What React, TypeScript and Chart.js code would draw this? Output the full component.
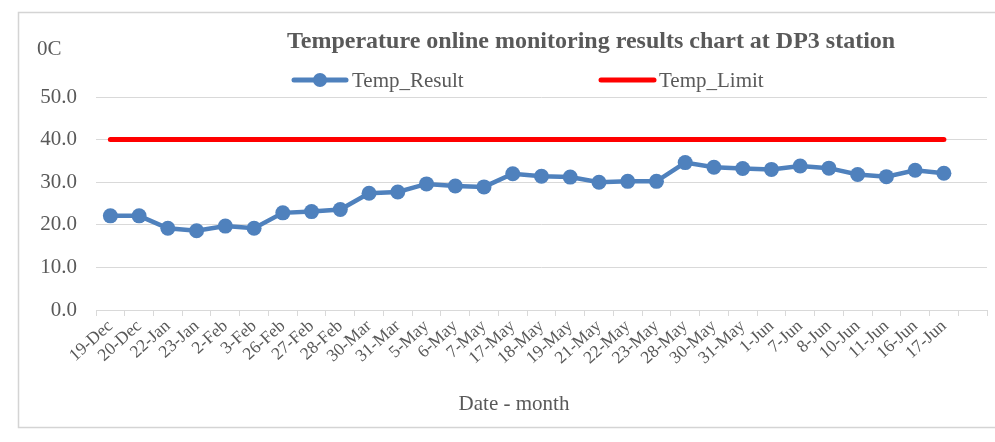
import React, { useEffect, useRef } from "react";
import { Chart, registerables } from "chart.js";

Chart.register(...registerables);

const categories: string[] = [
  "19-Dec", "20-Dec", "22-Jan", "23-Jan", "2-Feb", "3-Feb", "26-Feb", "27-Feb", "28-Feb",
  "30-Mar", "31-Mar", "5-May", "6-May", "7-May", "17-May", "18-May", "19-May", "21-May",
  "22-May", "23-May", "28-May", "30-May", "31-May", "1-Jun", "7-Jun", "8-Jun", "10-Jun",
  "11-Jun", "16-Jun", "17-Jun", "",
];

const tempResult: number[] = [
  22.1, 22.1, 19.2, 18.6, 19.7, 19.2, 22.8, 23.1, 23.6, 27.4, 27.7, 29.6, 29.1, 28.9,
  32.0, 31.4, 31.2, 30.0, 30.2, 30.2, 34.6, 33.5, 33.2, 33.0, 33.8, 33.3, 31.8, 31.3,
  32.8, 32.1,
];

const tempLimit: number[] = [
  40, 40, 40, 40, 40, 40, 40, 40, 40, 40, 40, 40, 40, 40, 40, 40, 40, 40, 40, 40, 40, 40,
  40, 40, 40, 40, 40, 40, 40, 40,
];

const yTicks: number[] = [0, 10, 20, 30, 40, 50];

const TITLE = "Temperature online monitoring results chart at DP3 station";
const Y_TITLE = "0C";
const X_TITLE = "Date - month";
const SERIES_NAMES = ["Temp_Result", "Temp_Limit"];

const FONT = "'Liberation Serif', 'Times New Roman', serif";
const TEXT = "#595959";
const BLUE = "#4f81bd";
const RED = "#ff0000";
const GRID = "#d9d9d9";

const decorPlugin = {
  id: "decor",
  beforeDraw(chart: any) {
    const ctx = chart.ctx;
    ctx.save();
    ctx.fillStyle = "#ffffff";
    ctx.fillRect(0, 0, chart.width, chart.height);
    ctx.strokeStyle = "#d4d4d4";
    ctx.lineWidth = 1.5;
    ctx.strokeRect(18.5, 12.5, 1000, 415);
    ctx.restore();
  },
  afterDraw(chart: any) {
    const ctx = chart.ctx;
    ctx.save();
    ctx.fillStyle = TEXT;
    ctx.textBaseline = "alphabetic";
    ctx.textAlign = "left";
    ctx.font = `bold 24px ${FONT}`;
    ctx.fillText(TITLE, 287, 48);

    ctx.font = `21px ${FONT}`;
    ctx.fillText(Y_TITLE, 37, 55);
    ctx.textAlign = "center";
    ctx.fillText(X_TITLE, 514, 410);

    // legend
    ctx.textAlign = "left";
    ctx.lineCap = "round";
    ctx.lineWidth = 5;
    ctx.strokeStyle = BLUE;
    ctx.beginPath();
    ctx.moveTo(294, 80);
    ctx.lineTo(346, 80);
    ctx.stroke();
    ctx.fillStyle = BLUE;
    ctx.beginPath();
    ctx.arc(320, 80, 7, 0, Math.PI * 2);
    ctx.fill();
    ctx.fillStyle = TEXT;
    ctx.fillText(SERIES_NAMES[0], 352, 87);

    ctx.strokeStyle = RED;
    ctx.beginPath();
    ctx.moveTo(601, 80);
    ctx.lineTo(654, 80);
    ctx.stroke();
    ctx.fillText(SERIES_NAMES[1], 659, 87);
    ctx.restore();
  },
};

export default function App() {
  const ref = useRef<HTMLCanvasElement | null>(null);

  useEffect(() => {
    if (!ref.current) return;
    const chart = new Chart(ref.current, {
      type: "line",
      data: {
        labels: categories,
        datasets: [
          {
            label: SERIES_NAMES[0],
            data: tempResult,
            borderColor: BLUE,
            backgroundColor: BLUE,
            borderWidth: 4.5,
            pointRadius: 7.5,
            pointBorderWidth: 0,
            pointBackgroundColor: BLUE,
            pointBorderColor: BLUE,
            tension: 0,
          },
          {
            label: SERIES_NAMES[1],
            data: tempLimit,
            borderColor: RED,
            backgroundColor: RED,
            borderWidth: 5,
            borderCapStyle: "round",
            pointRadius: 0,
            tension: 0,
          },
        ],
      },
      options: {
        responsive: false,
        animation: false,
        devicePixelRatio: 1,
        layout: { padding: { top: 97, right: 8, left: 0, bottom: 0 } },
        plugins: {
          legend: { display: false },
          title: { display: false },
          tooltip: { enabled: false },
        },
        scales: {
          x: {
            type: "category",
            offset: true,
            grid: {
              display: true,
              drawOnChartArea: false,
              drawTicks: true,
              tickLength: 6,
              color: GRID,
              offset: true,
            },
            border: { display: true, color: GRID, width: 1 },
            ticks: {
              autoSkip: false,
              minRotation: 42,
              maxRotation: 42,
              padding: 0,
              color: TEXT,
              font: { family: FONT, size: 17.5 },
            },
            afterFit(scale: any) {
              scale.height = 132;
            },
          },
          y: {
            min: 0,
            max: 50,
            afterBuildTicks(scale: any) {
              scale.ticks = yTicks.map((v) => ({ value: v }));
            },
            grid: { color: GRID, drawTicks: false, lineWidth: 1 },
            border: { display: false },
            ticks: {
              padding: 19,
              color: TEXT,
              font: { family: FONT, size: 21 },
              callback: (v: any) => Number(v).toFixed(1),
            },
            afterFit(scale: any) {
              scale.width = 96;
            },
          },
        },
      },
      plugins: [decorPlugin],
    });
    return () => chart.destroy();
  }, []);

  return (
    <div style={{ position: "fixed", left: 0, top: 0, width: 995, height: 442, background: "#fff" }}>
      <canvas ref={ref} width={995} height={442} style={{ display: "block" }} />
    </div>
  );
}
